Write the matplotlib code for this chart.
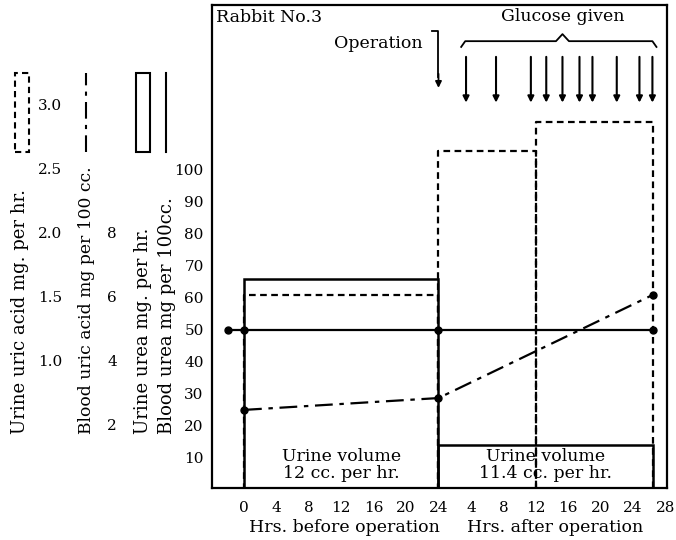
import matplotlib.pyplot as plt
from matplotlib.patches import Rectangle
from matplotlib.lines import Line2D
from matplotlib.transforms import blended_transform_factory

plt.rcParams['font.family'] = ['DejaVu Serif']

# x runs 0-24 hrs before operation, then 24 + hrs after operation
before_ticks = [0, 4, 8, 12, 16, 20, 24]
after_ticks = [4, 8, 12, 16, 20, 24, 28]
end_hr = 24 + 26.5

# blood urea, mg per 100 cc
blood_urea_x = [-2, 0, 24, end_hr]
blood_urea = [50, 50, 50, 50]

# blood uric acid, mg per 100 cc
blood_uric_x = [0, 24, end_hr]
blood_uric = [2.5, 2.87, 6.1]

# urine urea, mg per hr (per period)
urea_edges = [0, 24, end_hr]
urine_urea = [6.6, 1.4]

# urine uric acid, mg per hr (per period)
uric_edges = [0, 24, 36, end_hr]
urine_uric = [1.52, 2.65, 2.875]

# glucose given, hrs after operation
glucose_hrs = [3.4, 7.1, 11.4, 13.3, 15.3, 17.4, 19.0, 22.0, 24.8, 26.4]

# scale factors onto the blood urea scale
uric_scale = 40
blood_uric_scale = 10
urea_scale = 10

W, H = 676, 540
fig = plt.figure(figsize=(W / 100, H / 100), dpi=100)
ax = fig.add_axes([212 / W, 52 / H, 455 / W, 483 / H])
ax.set_xlim(-3.95, 52.2)
ax.set_ylim(0.6, 151.5)
for s in ax.spines.values():
    s.set_linewidth(1.6)

fs = 11     # numbers
ft = 12.5   # words

# urine urea boxes (solid)
for i, v in enumerate(urine_urea):
    x0, x1 = urea_edges[i], urea_edges[i + 1]
    ax.plot([x0, x0, x1, x1], [0, v * urea_scale, v * urea_scale, 0],
            color='black', lw=1.8, solid_joinstyle='miter')

# urine uric acid boxes (dashed)
for i, v in enumerate(urine_uric):
    x0, x1 = uric_edges[i], uric_edges[i + 1]
    ax.plot([x0, x0, x1, x1], [0, v * uric_scale, v * uric_scale, 0],
            color='black', lw=1.6, ls=(0, (3, 2)))

# blood urea
ax.plot(blood_urea_x, blood_urea, color='black', lw=1.6,
        marker='o', markersize=5)

# blood uric acid
ax.plot(blood_uric_x, [v * blood_uric_scale for v in blood_uric],
        color='black', lw=1.6, ls=(0, (8, 3, 2, 3)), marker='o', markersize=5)

# ticks
xt = before_ticks + [24 + h for h in after_ticks]
xl = [str(h) for h in before_ticks] + [str(h) for h in after_ticks]
ax.set_xticks(xt)
ax.set_xticklabels(xl, fontsize=fs)
ax.set_yticks(range(10, 101, 10))
ax.set_yticklabels([str(v) for v in range(10, 101, 10)], fontsize=fs)
ax.tick_params(length=0, pad=6)
ax.tick_params(axis='x', pad=9)

fig.text(344 / W, 1 - 528 / H, 'Hrs. before operation', ha='center', va='center', fontsize=ft)
fig.text(555 / W, 1 - 528 / H, 'Hrs. after operation', ha='center', va='center', fontsize=ft)

# texts inside
ax.text(-3.4, 150.3, 'Rabbit No.3', ha='left', va='top', fontsize=ft)
ax.text(12, 7.8, 'Urine volume\n12 cc. per hr.', ha='center', va='center',
        fontsize=ft, linespacing=0.95)
ax.text(37.2, 7.8, 'Urine volume\n11.4 cc. per hr.', ha='center', va='center',
        fontsize=ft, linespacing=0.95)

# operation arrow
ax.text(22.0, 139.6, 'Operation', ha='right', va='center', fontsize=ft)
ax.plot([23.2, 24.0, 24.0], [143.4, 143.4, 129], color='black', lw=1.3)
ax.annotate('', xy=(24.0, 125.6), xytext=(24.0, 130),
            arrowprops=dict(arrowstyle='-|>', color='black', lw=1.3,
                            mutation_scale=9, shrinkA=0, shrinkB=0))

# glucose arrows
for h in glucose_hrs:
    ax.annotate('', xy=(24 + h, 121), xytext=(24 + h, 135.3),
                arrowprops=dict(arrowstyle='-|>', color='black', lw=1.5,
                                mutation_scale=9, shrinkA=0, shrinkB=0))

# brace
x0, x1, xc, yb = 26.8, 50.9, 39.3, 140.2
ax.plot([x0, x0 + 0.5, xc - 0.8, xc, xc + 0.8, x1 - 0.5, x1],
        [yb - 1.8, yb, yb, yb + 2.2, yb, yb, yb - 1.8], color='black', lw=1.3)
ax.text(xc, 147.8, 'Glucose given', ha='center', va='center', fontsize=ft)

# left scales and legend
trans = blended_transform_factory(fig.transFigure, ax.transData)
for v in [3.0, 2.5, 2.0, 1.5, 1.0]:
    ax.text(50 / W, v * uric_scale, f'{v:.1f}', transform=trans,
            ha='center', va='center', fontsize=fs)
for v in [8, 6, 4, 2]:
    ax.text(112 / W, v * blood_uric_scale, str(v), transform=trans,
            ha='center', va='center', fontsize=fs)

labels = [(20, 'Urine uric acid mg. per hr.', 13),
          (87, 'Blood uric acid mg per 100 cc.', 12.3),
          (143, 'Urine urea mg. per hr.', 13),
          (167, 'Blood urea mg per 100cc.', 13)]
for xp, t, sz in labels:
    fig.text(xp / W, 1 - 434 / H, t, rotation=90, ha='center', va='bottom', fontsize=sz)

y_lo, y_hi = 1 - 152 / H, 1 - 73 / H
fig.add_artist(Rectangle((15 / W, y_lo), 14 / W, y_hi - y_lo, fill=False,
                         ls=(0, (3, 2)), lw=1.5, transform=fig.transFigure))
fig.add_artist(Line2D([86 / W, 86 / W], [y_lo, y_hi], color='black', lw=1.5,
                      ls=(0, (8, 3, 2, 3)), transform=fig.transFigure))
fig.add_artist(Rectangle((136 / W, y_lo), 14 / W, y_hi - y_lo, fill=False,
                         lw=1.5, transform=fig.transFigure))
fig.add_artist(Line2D([166 / W, 166 / W], [y_lo, y_hi], color='black', lw=1.5,
                      transform=fig.transFigure))

fig.savefig('out.png', dpi=100)
